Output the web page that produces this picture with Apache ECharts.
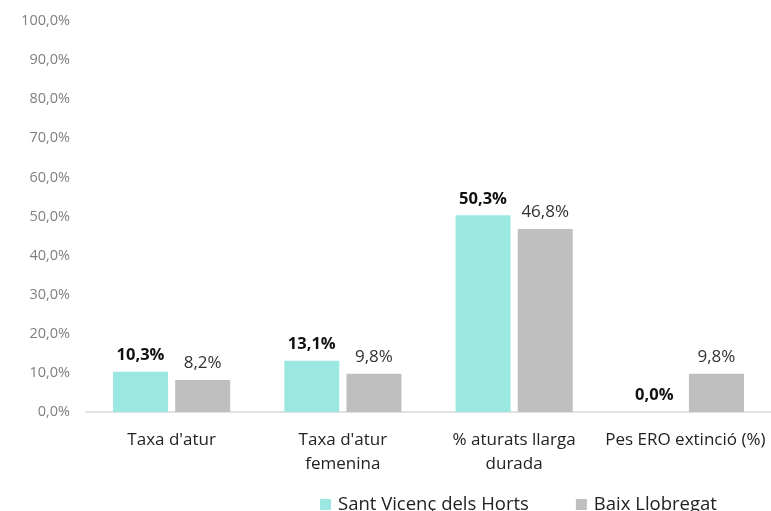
<!DOCTYPE html>
<html>
<head>
<meta charset="utf-8">
<script src="https://cdn.jsdelivr.net/npm/echarts@6/dist/echarts.min.js"></script>
<style>
html,body{margin:0;padding:0;background:#fff;}
#chart{width:771px;height:511px;}
</style>
</head>
<body>
<div id="chart"></div>
<script>
const categories = ["Taxa d'atur", "Taxa d'atur\nfemenina", "% aturats llarga\ndurada", "Pes ERO extinció (%)"];
const seriesNames = ["Sant Vicenç dels Horts", "Baix Llobregat"];
const santVicenc = [10.3, 13.1, 50.3, 0.0];
const baixLlobregat = [8.2, 9.8, 46.8, 9.8];
const yTicks = [0, 10, 20, 30, 40, 50, 60, 70, 80, 90, 100];

const fmt = v => v.toFixed(1).replace('.', ',') + '%';
const font = 'Open Sans';

const chart = echarts.init(document.getElementById('chart'));
chart.setOption({
  animation: false,
  backgroundColor: '#ffffff',
  textStyle: { fontFamily: font },
  grid: { left: 86, right: 0, top: 21, bottom: 99, containLabel: false },
  legend: {
    data: seriesNames,
    left: 315,
    top: 490,
    itemWidth: 11,
    itemHeight: 11,
    itemGap: 47,
    icon: 'rect',
    textStyle: { fontFamily: font, fontSize: 18.5, color: '#222', padding: [0, 0, 0, 2] }
  },
  xAxis: {
    type: 'category',
    data: categories,
    axisLine: { lineStyle: { color: '#d9d9d9', width: 1.5 } },
    axisTick: { show: false },
    axisLabel: { fontFamily: font, fontSize: 17, color: '#222', margin: 16, lineHeight: 24, interval: 0 }
  },
  yAxis: {
    type: 'value',
    min: yTicks[0],
    max: yTicks[yTicks.length - 1],
    interval: 10,
    splitLine: { show: false },
    axisLine: { show: false },
    axisTick: { show: false },
    axisLabel: { fontFamily: font, fontSize: 14.5, color: '#7f7f7f', margin: 16, formatter: v => fmt(v) }
  },
  series: [
    {
      name: seriesNames[0],
      type: 'bar',
      data: santVicenc,
      barWidth: 55,
      barGap: '13%',
      itemStyle: { color: '#9be8e3' },
      label: { show: true, position: 'top', distance: 8, fontFamily: font, fontSize: 16.5, fontWeight: 'bold', color: '#111', formatter: p => fmt(p.value) }
    },
    {
      name: seriesNames[1],
      type: 'bar',
      data: baixLlobregat,
      barWidth: 55,
      barGap: '13%',
      itemStyle: { color: '#bfbfbf' },
      label: { show: true, position: 'top', distance: 8, fontFamily: font, fontSize: 17, color: '#333', formatter: p => fmt(p.value) }
    }
  ]
});
</script>
</body>
</html>
